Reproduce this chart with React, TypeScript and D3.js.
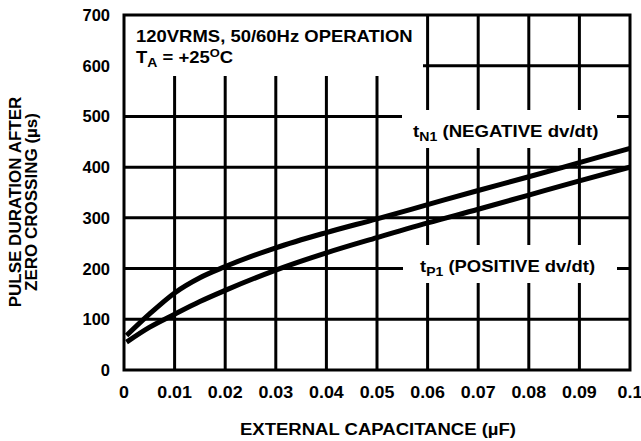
import React from "react";
import * as d3 from "d3";

const capacitance = [0.0005, 0.005, 0.01, 0.015, 0.02, 0.03, 0.04, 0.05, 0.06, 0.07, 0.08, 0.09, 0.1];
const tN1 = [68, 110, 152, 182, 204, 241, 271, 298, 326, 354, 381, 409, 437];
const tP1 = [55, 84, 110, 135, 157, 197, 231, 261, 290, 317, 345, 373, 400];
const xTicks = [0, 0.01, 0.02, 0.03, 0.04, 0.05, 0.06, 0.07, 0.08, 0.09, 0.1];
const xTickLabels = ["0", "0.01", "0.02", "0.03", "0.04", "0.05", "0.06", "0.07", "0.08", "0.09", "0.1"];
const yTicks = [0, 100, 200, 300, 400, 500, 600, 700];

const W = 641;
const H = 441;
const L = 124, R = 630, T = 15, B = 370;
const FONT = "'Liberation Sans', Arial, sans-serif";

export default function App() {
  const x = d3.scaleLinear().domain([0, 0.1]).range([L, R]);
  const y = d3.scaleLinear().domain([0, 700]).range([B, T]);
  const line = d3
    .line<number>()
    .x((_, i) => x(capacitance[i]))
    .y((d) => y(d))
    .curve(d3.curveMonotoneX);

  const boxes = [
    { x0: L, x1: 423, y0: T, y1: 76 },
    { x0: 402, x1: 617, y0: 110, y1: 148 },
    { x0: 403, x1: 617, y0: 245, y1: 283 },
  ];

  return (
    <svg width={W} height={H} style={{ position: "absolute", left: 0, top: 0, background: "#fff" }} fontFamily={FONT} fontWeight="bold">
      <rect x={0} y={0} width={W} height={H} fill="#fff" />
      {/* grid */}
      {xTicks.slice(1, -1).map((t) => (
        <line key={"vx" + t} x1={x(t)} x2={x(t)} y1={T} y2={B} stroke="#000" strokeWidth={3} />
      ))}
      {yTicks.slice(1, -1).map((t) => (
        <line key={"hy" + t} x1={L} x2={R} y1={y(t)} y2={y(t)} stroke="#000" strokeWidth={3} />
      ))}
      {boxes.map((b, i) => (
        <rect key={"b" + i} x={b.x0} y={b.y0} width={b.x1 - b.x0} height={b.y1 - b.y0} fill="#fff" />
      ))}
      {/* curves */}
      <path d={line(tN1) || ""} fill="none" stroke="#000" strokeWidth={5} strokeLinejoin="round" />
      <path d={line(tP1) || ""} fill="none" stroke="#000" strokeWidth={5} strokeLinejoin="round" />
      {/* frame */}
      <rect x={L} y={T} width={R - L} height={B - T} fill="none" stroke="#000" strokeWidth={3} />
      {/* y tick labels */}
      {yTicks.map((t) => (
        <text key={"yl" + t} x={110} y={y(t)} dy="0.36em" textAnchor="end" fontSize={16.5}>
          {t}
        </text>
      ))}
      {/* x tick labels */}
      {xTicks.map((t, i) => (
        <g key={"xl" + t} transform={`translate(${x(t)},398) scale(1.05,1)`}>
          <text x={0} y={0} textAnchor="middle" fontSize={17}>
            {xTickLabels[i]}
          </text>
        </g>
      ))}
      {/* axis titles */}
      <g transform={`translate(${(L + R) / 2 + 1},435) scale(1.09,1)`}>
        <text x={0} y={0} textAnchor="middle" fontSize={17}>
          EXTERNAL CAPACITANCE (µF)
        </text>
      </g>
      <g transform={`translate(21, 202) rotate(-90)`}>
        <text x={0} y={0} textAnchor="middle" fontSize={17}>PULSE DURATION AFTER</text>
        <text x={0} y={16} textAnchor="middle" fontSize={17}>ZERO CROSSING (µs)</text>
      </g>
      {/* annotations */}
      <g transform="translate(136,42) scale(1.12,1)">
        <text x={0} y={0} fontSize={16.5}>120VRMS, 50/60Hz OPERATION</text>
      </g>
      <g transform="translate(136,63) scale(1.12,1)">
        <text x={0} y={0} fontSize={16.5}>
          T<tspan fontSize={12.5} dy={4}>A</tspan>
          <tspan dy={-4}> = +25</tspan>
          <tspan fontSize={11.5} dy={-6}>O</tspan>
          <tspan dy={6}>C</tspan>
        </text>
      </g>
      <g transform="translate(413,137) scale(1.13,1)">
        <text x={0} y={0} fontSize={16.5}>
          t<tspan fontSize={12.5} dy={4}>N1</tspan>
          <tspan dy={-4}> (NEGATIVE dv/dt)</tspan>
        </text>
      </g>
      <g transform="translate(420,272) scale(1.12,1)">
        <text x={0} y={0} fontSize={16.5}>
          t<tspan fontSize={12.5} dy={4}>P1</tspan>
          <tspan dy={-4}> (POSITIVE dv/dt)</tspan>
        </text>
      </g>
    </svg>
  );
}
